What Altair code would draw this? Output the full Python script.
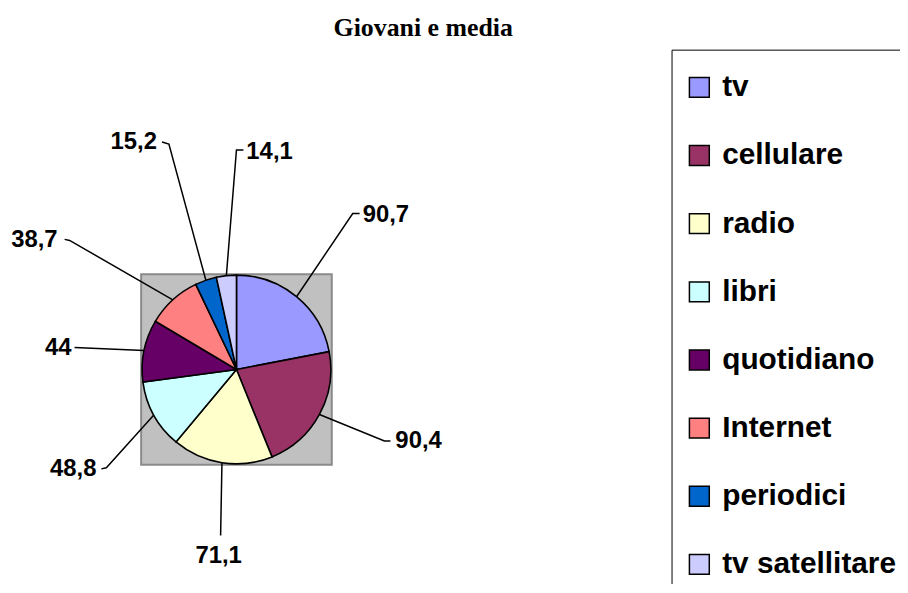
import math
import altair as alt
import pandas as pd

# ---- data -------------------------------------------------------------
categories = ["tv", "cellulare", "radio", "libri", "quotidiano",
              "Internet", "periodici", "tv satellitare"]
values = [90.7, 90.4, 71.1, 48.8, 44, 38.7, 15.2, 14.1]
value_labels = ["90,7", "90,4", "71,1", "48,8", "44", "38,7", "15,2", "14,1"]
colors = ["#9999FF", "#993366", "#FFFFCC", "#CCFFFF", "#660066",
          "#FF8080", "#0066CC", "#CCCCFF"]

# ---- manual label placement (pie-radius units from the pie centre) ----
label_pos = [(1.337, 1.632), (1.684, -0.758), (-0.189, -1.979), (-1.484, -1.053),
             (-1.747, 0.232), (-1.895, 1.368), (-0.842, 2.411), (0.105, 2.305)]
label_align = ["left", "left", "center", "right", "right", "right", "right", "left"]
elbow_pos = [(1.232, 1.653), (1.568, -0.758), (-0.168, -1.758), (-1.379, -1.042),
             (-1.716, 0.232), (-1.768, 1.368), (-0.716, 2.389), (0.0, 2.326)]
end_pos = [(1.305, 1.653), (1.632, -0.758), (-0.168, -1.758), (-1.432, -1.053),
           (-1.716, 0.232), (-1.821, 1.379), (-0.789, 2.411), (0.074, 2.326)]

# ---- layout -----------------------------------------------------------
W, H, PAD_TOP = 898, 536, 40
CX, CY, R = 230, 322, 95   # pie centre / radius in plot pixels

xdom = [-CX / R, (W - CX) / R]
ydom = [-(H - CY) / R, CY / R]

# ---- tables -----------------------------------------------------------
pie = pd.DataFrame({"cat": categories, "value": values,
                    "idx": list(range(len(values)))})

total = sum(values)
line_rows, text_rows = [], []
cum = 0.0
for i, v in enumerate(values):
    mid = (cum + v / 2) / total * 2 * math.pi
    cum += v
    pts = [(math.sin(mid), math.cos(mid)), elbow_pos[i], end_pos[i]]
    for k, (px, py) in enumerate(pts):
        line_rows.append({"cat": categories[i], "k": k, "x": px, "y": py})
    text_rows.append({"cat": categories[i], "label": value_labels[i],
                      "x": label_pos[i][0], "y": label_pos[i][1],
                      "align": label_align[i]})
lines = pd.DataFrame(line_rows)
texts = pd.DataFrame(text_rows)

xs = alt.Scale(domain=xdom, nice=False, zero=False)
ys = alt.Scale(domain=ydom, nice=False, zero=False)

bg = alt.Chart(pd.DataFrame({"x": [-1.01], "x2": [1.01], "y": [-1.01], "y2": [1.01]})).mark_rect(
    fill="#C0C0C0", stroke="#8A8A8A", strokeWidth=2
).encode(
    x=alt.X("x:Q", scale=xs, axis=None), x2="x2:Q",
    y=alt.Y("y:Q", scale=ys, axis=None), y2="y2:Q",
)

arcs = alt.Chart(pie).mark_arc(outerRadius=R, stroke="black", strokeWidth=1.6).encode(
    theta=alt.Theta("value:Q", stack=True),
    order=alt.Order("idx:Q"),
    x=alt.X(datum=0, type="quantitative", scale=xs, axis=None),
    y=alt.Y(datum=0, type="quantitative", scale=ys, axis=None),
    color=alt.Color(
        "cat:N",
        sort=categories,
        scale=alt.Scale(domain=categories, range=colors),
        legend=alt.Legend(
            orient="none", legendX=668, legendY=0,
            title=" ", titleFontSize=10, titlePadding=5,
            padding=8, strokeColor="black", fillColor="white",
            symbolType="square", symbolSize=400, symbolOffset=5,
            symbolStrokeColor="black", symbolStrokeWidth=1.5,
            labelFont="Liberation Sans", labelFontSize=30, labelFontWeight="bold",
            labelColor="black", labelOffset=8, labelLimit=400, rowPadding=38.6,
        ),
    ),
)

leaders = alt.Chart(lines).mark_line(color="black", strokeWidth=1.5).encode(
    x=alt.X("x:Q", scale=xs, axis=None),
    y=alt.Y("y:Q", scale=ys, axis=None),
    detail="cat:N",
    order="k:Q",
)

def label_layer(a):
    return alt.Chart(texts).transform_filter(alt.datum.align == a).mark_text(
        align=a, baseline="middle", font="Liberation Sans", fontSize=24,
        fontWeight="bold", color="black"
    ).encode(
        x=alt.X("x:Q", scale=xs, axis=None),
        y=alt.Y("y:Q", scale=ys, axis=None),
        text="label:N",
    )

chart = alt.layer(
    bg, arcs, leaders, label_layer("left"), label_layer("right"), label_layer("center")
).properties(
    width=W, height=H,
    autosize=alt.AutoSizeParams(type="none"),
    padding={"left": 0, "right": 0, "top": PAD_TOP, "bottom": 0},
    title=alt.TitleParams("Giovani e media", font="Liberation Serif", fontSize=26,
                          fontWeight="bold", color="black", anchor="middle",
                          frame="group", dx=-31, offset=8),
).configure_view(stroke=None)

chart.save("out.html", embed_options={"renderer": "svg", "actions": False})
